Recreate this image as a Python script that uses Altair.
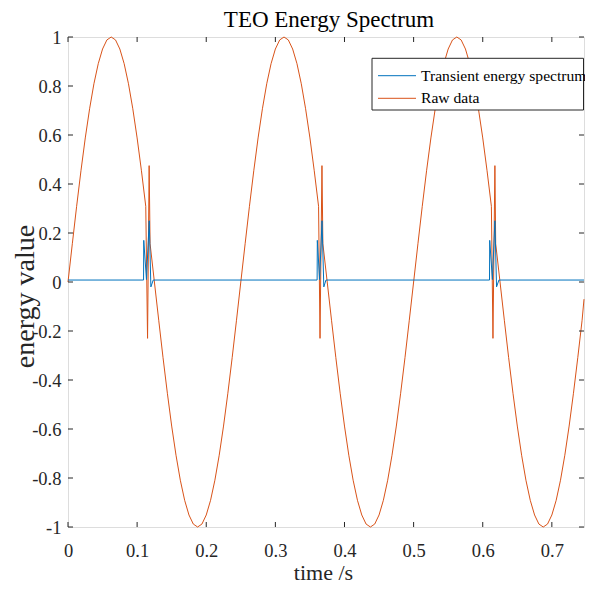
import altair as alt
import pandas as pd

# ---------------- data ----------------
# Raw data (orange) sampled every 0.00625 s
raw_step = 0.00625
raw_values = [
    0.0, 0.156, 0.309, 0.454, 0.588, 0.707, 0.809, 0.891, 0.951, 0.988,
    1.0, 0.988, 0.951, 0.891, 0.809, 0.707, 0.588, 0.454, 0.309, 0.156,
    0.0, -0.156, -0.309, -0.454, -0.588, -0.707, -0.809, -0.891, -0.951, -0.988,
    -1.0, -0.988, -0.951, -0.891, -0.809, -0.707, -0.588, -0.454, -0.309, -0.156,
    0.0, 0.156, 0.309, 0.454, 0.588, 0.707, 0.809, 0.891, 0.951, 0.988,
    1.0, 0.988, 0.951, 0.891, 0.809, 0.707, 0.588, 0.454, 0.309, 0.156,
    0.0, -0.156, -0.309, -0.454, -0.588, -0.707, -0.809, -0.891, -0.951, -0.988,
    -1.0, -0.988, -0.951, -0.891, -0.809, -0.707, -0.588, -0.454, -0.309, -0.156,
    0.0, 0.156, 0.309, 0.454, 0.588, 0.707, 0.809, 0.891, 0.951, 0.988,
    1.0, 0.988, 0.951, 0.891, 0.809, 0.707, 0.588, 0.454, 0.309, 0.156,
    0.0, -0.156, -0.309, -0.454, -0.588, -0.707, -0.809, -0.891, -0.951, -0.988,
    -1.0, -0.988, -0.951, -0.891, -0.809, -0.707, -0.588, -0.454, -0.309, -0.156,
]
raw_end_t = [0.7465]
raw_end_v = [-0.07]
# disturbance spikes in the raw data
spike_t = [0.1151, 0.1174, 0.3646, 0.3674, 0.6148, 0.6176]
spike_v = [-0.23, 0.475, -0.23, 0.475, -0.23, 0.475]

# Transient energy spectrum (blue)
teo_t = [0.0, 0.1093, 0.1096, 0.1135, 0.1175, 0.1199, 0.1233,
         0.3604, 0.3607, 0.3640, 0.3675, 0.3701, 0.3732,
         0.6098, 0.6101, 0.6140, 0.6176, 0.6200, 0.6234, 0.7465]
teo_v = [0.008, 0.008, 0.17, 0.01, 0.25, -0.02, 0.008,
         0.008, 0.17, 0.01, 0.25, -0.02, 0.008,
         0.008, 0.17, 0.01, 0.25, -0.02, 0.008, 0.008]

series_names = ["Transient energy spectrum", "Raw data"]
chart_title = "TEO Energy Spectrum"
x_ticks = [0, 0.1, 0.2, 0.3, 0.4, 0.5, 0.6, 0.7]
y_ticks = [-1, -0.8, -0.6, -0.4, -0.2, 0, 0.2, 0.4, 0.6, 0.8, 1]
x_max = 0.7465

# ---------------- tables ----------------
raw_t = [round(i * raw_step, 6) for i in range(len(raw_values))]
raw_df = pd.DataFrame({
    "t": raw_t + spike_t + raw_end_t,
    "v": raw_values + spike_v + raw_end_v,
}).sort_values("t").reset_index(drop=True)
raw_df["o"] = range(len(raw_df))
teo_df = pd.DataFrame({"t": teo_t, "v": teo_v, "o": range(len(teo_t))})
xt_df = pd.DataFrame({"v": x_ticks})
yt_df = pd.DataFrame({"v": y_ticks})

W, H = 516, 490
FONT = "Liberation Serif"
AX = "#262626"
BLUE = "#0072BD"
ORANGE = "#D95319"

xscale = alt.Scale(domain=[0, x_max], nice=False, zero=False)
yscale = alt.Scale(domain=[-1, 1], nice=False, zero=False)

lab = "datum.value == 0 ? '0' : toString(round(datum.value * 10) / 10)"

blue = alt.Chart(teo_df).mark_line(color=BLUE, strokeWidth=1).encode(
    x=alt.X("t:Q", scale=xscale, axis=None),
    y=alt.Y("v:Q", scale=yscale, axis=None),
    order="o:Q",
)

red = alt.Chart(raw_df).mark_line(color=ORANGE, strokeWidth=1).encode(
    x=alt.X("t:Q", scale=xscale,
            axis=alt.Axis(values=x_ticks, title="time /s", labelExpr=lab,
                          labelFont=FONT, labelFontSize=18.5, labelColor=AX,
                          labelBaseline="middle", labelPadding=23,
                          labelFlush=False, labelOverlap=False,
                          ticks=False, domain=False, grid=False,
                          titleFont=FONT, titleFontSize=22, titleFontWeight="normal",
                          titleColor=AX, titleX=255, titleY=52.5,
                          titleBaseline="alphabetic", titleAnchor="middle")),
    y=alt.Y("v:Q", scale=yscale,
            axis=alt.Axis(values=y_ticks, title="energy value", labelExpr=lab,
                          labelFont=FONT, labelFontSize=18.5, labelColor=AX,
                          labelPadding=7, labelFlush=False, labelOverlap=False,
                          ticks=False, domain=False, grid=False,
                          titleFont=FONT, titleFontSize=28, titleFontWeight="normal",
                          titleColor=AX, titleX=-35, titleY=259, titleAngle=270,
                          titleBaseline="alphabetic", titleAlign="center")),
    order="o:Q",
)

tick_len = 5
tb = alt.Chart(xt_df).mark_rule(color=AX, strokeWidth=1).encode(
    x=alt.X("v:Q", scale=xscale, axis=None), y=alt.value(H), y2=alt.value(H - tick_len))
tt = alt.Chart(xt_df).mark_rule(color=AX, strokeWidth=1).encode(
    x=alt.X("v:Q", scale=xscale, axis=None), y=alt.value(0), y2=alt.value(tick_len))
tl = alt.Chart(yt_df).mark_rule(color=AX, strokeWidth=1).encode(
    y=alt.Y("v:Q", scale=yscale, axis=None), x=alt.value(0), x2=alt.value(tick_len))
tr = alt.Chart(yt_df).mark_rule(color=AX, strokeWidth=1).encode(
    y=alt.Y("v:Q", scale=yscale, axis=None), x=alt.value(W), x2=alt.value(W - tick_len))

title_mark = alt.Chart(pd.DataFrame({"name": [chart_title]})).mark_text(
    font=FONT, fontSize=23, color="black", align="center", baseline="alphabetic"
).encode(x=alt.value(261), y=alt.value(-10.3), text="name:N")

# legend (manual, MATLAB style box)
one = pd.DataFrame({"a": [0]})
leg_box = alt.Chart(one).mark_rect(fill="white", stroke=AX, strokeWidth=1).encode(
    x=alt.value(304), x2=alt.value(W - 0.5), y=alt.value(21.3), y2=alt.value(73))
leg_layers = [leg_box]
for i, (name, col) in enumerate(zip(series_names, [BLUE, ORANGE])):
    yy = 38.7 + i * 22.6
    leg_layers.append(
        alt.Chart(one).mark_rule(color=col, strokeWidth=1).encode(
            x=alt.value(310), x2=alt.value(348), y=alt.value(yy)))
    leg_layers.append(
        alt.Chart(pd.DataFrame({"name": [name]})).mark_text(
            font=FONT, fontSize=15.6, color="black", align="left", baseline="middle"
        ).encode(x=alt.value(353), y=alt.value(yy), text="name:N"))

chart = alt.layer(red, blue, tb, tt, tl, tr, title_mark, *leg_layers).properties(
    width=W, height=H,
    autosize=alt.AutoSizeParams(type="none"),
    padding={"left": 60, "top": 29, "right": 1, "bottom": 57},
).resolve_axis(x="independent", y="independent"
).configure_view(stroke=AX, strokeWidth=1).configure(background="white")

chart.save("out.html", embed_options={"renderer": "svg", "actions": False})
